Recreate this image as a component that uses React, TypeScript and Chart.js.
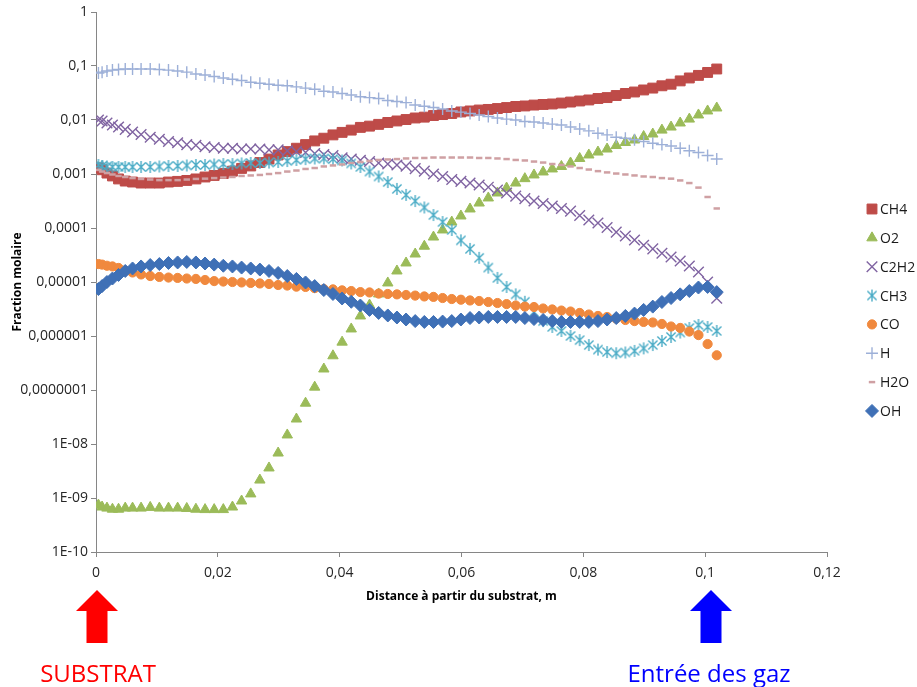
import React, { useEffect, useRef } from "react";
import { Chart, registerables } from "chart.js";

Chart.register(...registerables);

// ---------- DATA ----------
const X_VALUES = [
  0.0004, 0.001, 0.0018, 0.0027, 0.0037, 0.0048, 0.006, 0.0074,
  0.0089, 0.0104, 0.0119, 0.0134, 0.0149, 0.0164, 0.0179, 0.0194, 0.0209, 0.0224,
  0.0239, 0.0254, 0.0269, 0.0284, 0.0299, 0.0314, 0.0329, 0.0344, 0.0359, 0.0374,
  0.0389, 0.0404, 0.0419, 0.0434, 0.0449, 0.0464, 0.0479, 0.0494, 0.0509, 0.0524,
  0.0539, 0.0554, 0.0569, 0.0584, 0.0599, 0.0614, 0.0629, 0.0644, 0.0659, 0.0674,
  0.0689, 0.0704, 0.0719, 0.0734, 0.0749, 0.0764, 0.0779, 0.0794, 0.0809, 0.0824,
  0.0839, 0.0854, 0.0869, 0.0884, 0.0899, 0.0914, 0.0929, 0.0944, 0.0959, 0.0974,
  0.0989, 0.1004, 0.1019,
];

const CH4 = [
  0.0013, 0.0012, 0.00104, 0.00092, 0.00081, 0.00074, 0.00071, 0.00068,
  0.00068, 0.00068, 0.00071, 0.00073, 0.00076, 0.00081, 0.00088, 0.00094, 0.00102, 0.00113,
  0.00127, 0.00141, 0.00163, 0.00189, 0.00225, 0.0026, 0.003, 0.0035, 0.0041, 0.0046,
  0.0053, 0.0059, 0.0065, 0.0073, 0.0077, 0.0083, 0.009, 0.0096, 0.0102, 0.0109,
  0.0113, 0.0121, 0.0126, 0.0132, 0.0141, 0.0147, 0.0153, 0.0157, 0.0163, 0.017,
  0.0178, 0.0182, 0.0189, 0.0194, 0.0198, 0.0206, 0.0215, 0.0225, 0.0235, 0.025,
  0.026, 0.0284, 0.031, 0.033, 0.036, 0.039, 0.043, 0.046, 0.053, 0.06,
  0.067, 0.076, 0.088,
];

const O2 = [
  7.4e-10, 6.8e-10, 6.5e-10, 6.2e-10, 6.2e-10, 6.5e-10, 6.5e-10, 6.5e-10,
  6.7e-10, 6.5e-10, 6.5e-10, 6.5e-10, 6.4e-10, 6.2e-10, 6.1e-10, 6.1e-10, 6.1e-10, 6.8e-10,
  8.8e-10, 1.19e-9, 2.15e-9, 3.6e-9, 6.8e-9, 1.47e-8, 2.9e-8, 5.7e-8, 1.13e-7, 2.45e-7,
  4.3e-7, 7.7e-7, 1.35e-6, 2.35e-6, 3.75e-6, 6.0e-6, 9.6e-6, 1.6e-5, 2.25e-5, 3.3e-5,
  4.6e-5, 6.8e-5, 9.2e-5, 1.29e-4, 1.67e-4, 2.25e-4, 2.9e-4, 3.6e-4, 4.45e-4, 5.5e-4,
  6.8e-4, 8.2e-4, 9.6e-4, 1.09e-3, 1.24e-3, 1.38e-3, 1.6e-3, 1.94e-3, 2.25e-3, 2.55e-3,
  2.9e-3, 3.37e-3, 3.83e-3, 4.26e-3, 4.95e-3, 5.5e-3, 6.5e-3, 7.4e-3, 8.8e-3, 0.0104,
  0.0124, 0.0147, 0.0167,
];

const C2H2 = [
  0.01, 0.0096, 0.0088, 0.0081, 0.0074, 0.0067, 0.006, 0.0054,
  0.0048, 0.0044, 0.004, 0.0038, 0.0035, 0.0034, 0.0032, 0.0031, 0.003, 0.003,
  0.0029, 0.0029, 0.0029, 0.0028, 0.0028, 0.0027, 0.0026, 0.0025, 0.0024, 0.0023,
  0.0022, 0.002, 0.0019, 0.0018, 0.0017, 0.0016, 0.00153, 0.00147, 0.0014, 0.00126,
  0.00113, 0.001, 9.0e-4, 7.9e-4, 7.3e-4, 6.8e-4, 6.25e-4, 5.7e-4, 5.05e-4, 4.45e-4,
  3.9e-4, 3.5e-4, 3.16e-4, 2.85e-4, 2.55e-4, 2.3e-4, 2.05e-4, 1.7e-4, 1.41e-4, 1.24e-4,
  1.02e-4, 8.4e-5, 7.1e-5, 6.0e-5, 4.8e-5, 4.1e-5, 3.4e-5, 2.9e-5, 2.45e-5, 1.98e-5,
  1.53e-5, 1.0e-5, 5.0e-6,
];

const CH3 = [
  1.47e-3, 1.41e-3, 1.38e-3, 1.35e-3, 1.35e-3, 1.35e-3, 1.35e-3, 1.35e-3,
  1.35e-3, 1.38e-3, 1.41e-3, 1.41e-3, 1.44e-3, 1.47e-3, 1.47e-3, 1.5e-3, 1.53e-3, 1.53e-3,
  1.57e-3, 1.6e-3, 1.6e-3, 1.63e-3, 1.67e-3, 1.74e-3, 1.82e-3, 1.89e-3, 1.94e-3, 1.94e-3,
  1.89e-3, 1.78e-3, 1.57e-3, 1.35e-3, 1.11e-3, 9.0e-4, 7.1e-4, 5.3e-4, 4.1e-4, 3.16e-4,
  2.4e-4, 1.74e-4, 1.29e-4, 9.2e-5, 5.9e-5, 4.1e-5, 2.8e-5, 1.85e-5, 1.19e-5, 8.1e-6,
  5.9e-6, 4.3e-6, 2.8e-6, 1.89e-6, 1.47e-6, 1.24e-6, 1.0e-6, 8.4e-7, 6.8e-7, 5.6e-7,
  5.05e-7, 4.8e-7, 4.95e-7, 5.3e-7, 5.9e-7, 6.8e-7, 8.1e-7, 9.6e-7, 1.16e-6, 1.41e-6,
  1.6e-6, 1.47e-6, 1.24e-6,
];

const CO = [
  2.15e-5, 2.1e-5, 2.0e-5, 1.94e-5, 1.82e-5, 1.63e-5, 1.5e-5, 1.38e-5,
  1.29e-5, 1.24e-5, 1.21e-5, 1.19e-5, 1.16e-5, 1.14e-5, 1.09e-5, 1.04e-5, 1.02e-5, 1.0e-5,
  9.8e-6, 9.6e-6, 9.4e-6, 9.2e-6, 8.8e-6, 8.6e-6, 8.2e-6, 8.1e-6, 7.7e-6, 7.4e-6,
  7.3e-6, 7.0e-6, 6.8e-6, 6.5e-6, 6.4e-6, 6.1e-6, 6.0e-6, 5.9e-6, 5.75e-6, 5.6e-6,
  5.4e-6, 5.3e-6, 5.05e-6, 4.84e-6, 4.7e-6, 4.55e-6, 4.45e-6, 4.26e-6, 4.08e-6, 3.9e-6,
  3.67e-6, 3.5e-6, 3.44e-6, 3.23e-6, 3.1e-6, 2.96e-6, 2.84e-6, 2.67e-6, 2.5e-6, 2.35e-6,
  2.25e-6, 2.1e-6, 1.98e-6, 1.89e-6, 1.82e-6, 1.78e-6, 1.67e-6, 1.5e-6, 1.41e-6, 1.21e-6,
  1.04e-6, 7.1e-7, 4.4e-7,
];

const H = [
  0.074, 0.077, 0.081, 0.084, 0.086, 0.088, 0.088, 0.088,
  0.088, 0.086, 0.084, 0.081, 0.077, 0.071, 0.068, 0.064, 0.06, 0.057,
  0.054, 0.05, 0.048, 0.046, 0.044, 0.043, 0.041, 0.039, 0.037, 0.034,
  0.033, 0.031, 0.029, 0.027, 0.026, 0.025, 0.023, 0.022, 0.021, 0.019,
  0.018, 0.017, 0.016, 0.0147, 0.014, 0.0132, 0.0124, 0.0116, 0.0109, 0.0104,
  0.01, 0.0094, 0.0092, 0.0088, 0.0084, 0.0081, 0.0074, 0.0068, 0.0063, 0.0057,
  0.0053, 0.0048, 0.0046, 0.0043, 0.004, 0.0037, 0.0035, 0.0033, 0.003, 0.0027,
  0.0025, 0.0022, 0.0019,
];

const H2O = [
  1.19e-3, 1.11e-3, 1.04e-3, 9.8e-4, 9.2e-4, 8.8e-4, 8.4e-4, 8.1e-4,
  7.9e-4, 7.7e-4, 7.7e-4, 7.7e-4, 7.9e-4, 8.1e-4, 8.2e-4, 8.4e-4, 8.6e-4, 8.8e-4,
  9.2e-4, 9.4e-4, 9.6e-4, 1.0e-3, 1.04e-3, 1.11e-3, 1.16e-3, 1.24e-3, 1.29e-3, 1.38e-3,
  1.44e-3, 1.5e-3, 1.6e-3, 1.67e-3, 1.74e-3, 1.82e-3, 1.86e-3, 1.89e-3, 1.94e-3, 1.98e-3,
  1.98e-3, 2.02e-3, 2.02e-3, 2.02e-3, 2.02e-3, 2.02e-3, 1.98e-3, 1.98e-3, 1.94e-3, 1.89e-3,
  1.82e-3, 1.78e-3, 1.7e-3, 1.63e-3, 1.53e-3, 1.47e-3, 1.38e-3, 1.29e-3, 1.21e-3, 1.13e-3,
  1.07e-3, 1.02e-3, 9.8e-4, 9.4e-4, 9.0e-4, 8.8e-4, 8.4e-4, 8.2e-4, 7.6e-4, 6.8e-4,
  5.6e-4, 3.75e-4, 2.3e-4,
];

const OH = [
  7.4e-6, 8.4e-6, 1.0e-5, 1.16e-5, 1.35e-5, 1.6e-5, 1.78e-5, 1.94e-5,
  2.06e-5, 2.15e-5, 2.25e-5, 2.3e-5, 2.35e-5, 2.3e-5, 2.2e-5, 2.1e-5, 2.0e-5, 1.94e-5,
  1.85e-5, 1.78e-5, 1.7e-5, 1.6e-5, 1.47e-5, 1.29e-5, 1.14e-5, 9.8e-6, 8.4e-6, 7.1e-6,
  6.0e-6, 4.95e-6, 4.3e-6, 3.67e-6, 3.04e-6, 2.67e-6, 2.4e-6, 2.2e-6, 2.02e-6, 1.89e-6,
  1.82e-6, 1.82e-6, 1.85e-6, 1.89e-6, 2.02e-6, 2.15e-6, 2.2e-6, 2.25e-6, 2.25e-6, 2.25e-6,
  2.25e-6, 2.15e-6, 2.06e-6, 1.98e-6, 1.89e-6, 1.82e-6, 1.82e-6, 1.82e-6, 1.82e-6, 1.89e-6,
  2.02e-6, 2.15e-6, 2.35e-6, 2.6e-6, 3.04e-6, 3.5e-6, 4.26e-6, 5.05e-6, 5.9e-6, 6.8e-6,
  7.9e-6, 8.1e-6, 6.5e-6,
];

const SERIES_NAMES = ["CH4", "O2", "C2H2", "CH3", "CO", "H", "H2O", "OH"];
const SERIES_VALUES = [CH4, O2, C2H2, CH3, CO, H, H2O, OH];

const Y_TICK_VALUES = [1e-10, 1e-9, 1e-8, 1e-7, 1e-6, 1e-5, 1e-4, 1e-3, 1e-2, 1e-1, 1];
const Y_TICK_LABELS = ["1E-10", "1E-09", "1E-08", "0,0000001", "0,000001", "0,00001", "0,0001", "0,001", "0,01", "0,1", "1"];
const X_TICK_VALUES = [0, 0.02, 0.04, 0.06, 0.08, 0.1, 0.12];
const X_TICK_LABELS = ["0", "0,02", "0,04", "0,06", "0,08", "0,1", "0,12"];

const X_TITLE = "Distance à partir du substrat, m";
const Y_TITLE = "Fraction molaire";
const LEFT_NOTE = "SUBSTRAT";
const RIGHT_NOTE = "Entrée des gaz";

// ---------- STYLES ----------
type MarkerStyle = { color: string; style: string; radius: number; border: number };
const STYLES: MarkerStyle[] = [
  { color: "#BE4B48", style: "rect", radius: 7, border: 1 },
  { color: "#9BBB59", style: "triangle", radius: 6, border: 1 },
  { color: "#8064A2", style: "crossRot", radius: 7.5, border: 1.4 },
  { color: "#4BACC6", style: "asterisk", radius: 6, border: 1.4 },
  { color: "#F0893E", style: "circle", radius: 4.6, border: 1 },
  { color: "#9DB0D8", style: "cross", radius: 6, border: 1.4 },
  { color: "#CFA0A3", style: "line", radius: 3.2, border: 2.5 },
  { color: "#3F70B6", style: "rectRot", radius: 6.5, border: 1 },
];

const FONT = "'Open Sans', 'Noto Sans', sans-serif";

function makeAsterisk(color: string, lw: number): HTMLCanvasElement {
  const c = document.createElement("canvas");
  c.width = 14;
  c.height = 14;
  const g = c.getContext("2d")!;
  g.strokeStyle = color;
  g.lineWidth = lw;
  const m = 7;
  const a = 4.6;
  g.beginPath();
  g.moveTo(m - a, m - a);
  g.lineTo(m + a, m + a);
  g.moveTo(m + a, m - a);
  g.lineTo(m - a, m + a);
  g.moveTo(m, m - 6);
  g.lineTo(m, m + 6);
  g.stroke();
  return c;
}

function drawMarker(ctx: CanvasRenderingContext2D, st: MarkerStyle, x: number, y: number, img: HTMLCanvasElement | null) {
  ctx.save();
  ctx.fillStyle = st.color;
  ctx.strokeStyle = st.color;
  ctx.lineWidth = st.border;
  const r = st.radius;
  ctx.beginPath();
  switch (st.style) {
    case "rect": {
      const s = r * Math.SQRT1_2;
      ctx.rect(x - s, y - s, 2 * s, 2 * s);
      ctx.fill();
      ctx.stroke();
      break;
    }
    case "triangle": {
      ctx.moveTo(x, y - r);
      ctx.lineTo(x + r * 0.866, y + r * 0.5);
      ctx.lineTo(x - r * 0.866, y + r * 0.5);
      ctx.closePath();
      ctx.fill();
      ctx.stroke();
      break;
    }
    case "circle": {
      ctx.arc(x, y, r, 0, Math.PI * 2);
      ctx.fill();
      ctx.stroke();
      break;
    }
    case "rectRot": {
      ctx.moveTo(x, y - r);
      ctx.lineTo(x + r, y);
      ctx.lineTo(x, y + r);
      ctx.lineTo(x - r, y);
      ctx.closePath();
      ctx.fill();
      ctx.stroke();
      break;
    }
    case "cross": {
      ctx.moveTo(x - r, y);
      ctx.lineTo(x + r, y);
      ctx.moveTo(x, y - r);
      ctx.lineTo(x, y + r);
      ctx.stroke();
      break;
    }
    case "crossRot": {
      const d = r * Math.SQRT1_2;
      ctx.moveTo(x - d, y - d);
      ctx.lineTo(x + d, y + d);
      ctx.moveTo(x + d, y - d);
      ctx.lineTo(x - d, y + d);
      ctx.stroke();
      break;
    }
    case "line": {
      ctx.moveTo(x - r, y);
      ctx.lineTo(x + r, y);
      ctx.stroke();
      break;
    }
    case "asterisk": {
      if (img) ctx.drawImage(img, x - img.width / 2, y - img.height / 2);
      break;
    }
  }
  ctx.restore();
}

function drawArrow(ctx: CanvasRenderingContext2D, cx: number, color: string) {
  const tip = 590;
  const base = 611;
  const bottom = 643;
  const hw = 21;
  const sw = 10.5;
  ctx.save();
  ctx.fillStyle = color;
  ctx.beginPath();
  ctx.moveTo(cx, tip);
  ctx.lineTo(cx + hw, base);
  ctx.lineTo(cx + sw, base);
  ctx.lineTo(cx + sw, bottom);
  ctx.lineTo(cx - sw, bottom);
  ctx.lineTo(cx - sw, base);
  ctx.lineTo(cx - hw, base);
  ctx.closePath();
  ctx.fill();
  ctx.restore();
}

export default function App() {
  const canvasRef = useRef<HTMLCanvasElement | null>(null);

  useEffect(() => {
    const canvas = canvasRef.current;
    if (!canvas) return;
    Chart.defaults.font.family = FONT;

    const asterisk = makeAsterisk(STYLES[3].color, STYLES[3].border);

    const datasets = SERIES_NAMES.map((name, i) => {
      const st = STYLES[i];
      return {
        label: name,
        data: X_VALUES.map((x, j) => ({ x, y: SERIES_VALUES[i][j] })),
        showLine: false,
        pointStyle: st.style === "asterisk" ? asterisk : st.style,
        pointRadius: st.radius,
        pointBorderWidth: st.border,
        pointBackgroundColor: st.color,
        pointBorderColor: st.color,
        backgroundColor: st.color,
        borderColor: st.color,
        order: SERIES_NAMES.length - 1 - i,
      };
    });

    const extras = {
      id: "extras",
      afterDraw(chart: any) {
        const ctx: CanvasRenderingContext2D = chart.ctx;
        const area = chart.chartArea;
        // Y title
        ctx.save();
        ctx.fillStyle = "#000";
        ctx.font = `bold 12px ${FONT}`;
        ctx.translate(18, (area.top + area.bottom) / 2);
        ctx.rotate(-Math.PI / 2);
        ctx.textAlign = "center";
        ctx.textBaseline = "middle";
        ctx.fillText(Y_TITLE, 0, 0);
        ctx.restore();
        // X title
        ctx.save();
        ctx.fillStyle = "#000";
        ctx.font = `bold 12px ${FONT}`;
        ctx.textAlign = "center";
        ctx.textBaseline = "middle";
        ctx.fillText(X_TITLE, (area.left + area.right) / 2, 597);
        ctx.restore();
        // Legend
        ctx.save();
        ctx.font = `14px ${FONT}`;
        ctx.fillStyle = "#1a1a1a";
        ctx.textAlign = "left";
        ctx.textBaseline = "middle";
        SERIES_NAMES.forEach((name, i) => {
          const y = 209 + i * 28.85;
          drawMarker(ctx, STYLES[i], 872, y, asterisk);
          ctx.fillStyle = "#1a1a1a";
          ctx.fillText(name, 880, y + 1);
        });
        ctx.restore();
        // Arrows and notes
        drawArrow(ctx, 97, "#FF0000");
        drawArrow(ctx, 711, "#0000FF");
        ctx.save();
        ctx.font = `24px ${FONT}`;
        ctx.textAlign = "center";
        ctx.textBaseline = "alphabetic";
        ctx.fillStyle = "#FF0000";
        ctx.fillText(LEFT_NOTE, 98, 682);
        ctx.fillStyle = "#0000FF";
        ctx.fillText(RIGHT_NOTE, 709, 682);
        ctx.restore();
      },
    };

    const chart = new Chart(canvas, {
      type: "scatter",
      data: { datasets: datasets as any },
      options: {
        animation: false,
        responsive: false,
        devicePixelRatio: 1,
        events: [],
        layout: { padding: { top: 12, right: 90, left: 0, bottom: 0 } },
        plugins: { legend: { display: false }, tooltip: { enabled: false } },
        scales: {
          x: {
            type: "linear",
            position: "bottom",
            min: 0,
            max: 0.12,
            afterBuildTicks: (s: any) => {
              s.ticks = X_TICK_VALUES.map((v) => ({ value: v }));
            },
            afterFit: (s: any) => {
              s.height = 135;
            },
            ticks: {
              autoSkip: false,
              maxRotation: 0,
              padding: 8,
              color: "#262626",
              font: { size: 14 },
              callback: (_v: any, i: number) => X_TICK_LABELS[i],
            },
            grid: { drawOnChartArea: false, drawTicks: true, tickLength: 5, color: "#868686" },
            border: { display: true, color: "#868686", width: 1 },
          },
          y: {
            type: "logarithmic",
            position: "left",
            min: 1e-10,
            max: 1,
            afterBuildTicks: (s: any) => {
              s.ticks = Y_TICK_VALUES.map((v) => ({ value: v }));
            },
            afterFit: (s: any) => {
              s.width = 96;
            },
            ticks: {
              autoSkip: false,
              padding: 3,
              color: "#262626",
              font: { size: 14 },
              callback: (_v: any, i: number) => Y_TICK_LABELS[i],
            },
            grid: { drawOnChartArea: false, drawTicks: true, tickLength: 5, color: "#868686" },
            border: { display: true, color: "#868686", width: 1 },
          },
        },
      },
      plugins: [extras],
    });

    return () => chart.destroy();
  }, []);

  return (
    <div style={{ position: "fixed", left: 0, top: 0, width: 917, height: 687, background: "#fff" }}>
      <canvas ref={canvasRef} width={917} height={687} />
    </div>
  );
}
